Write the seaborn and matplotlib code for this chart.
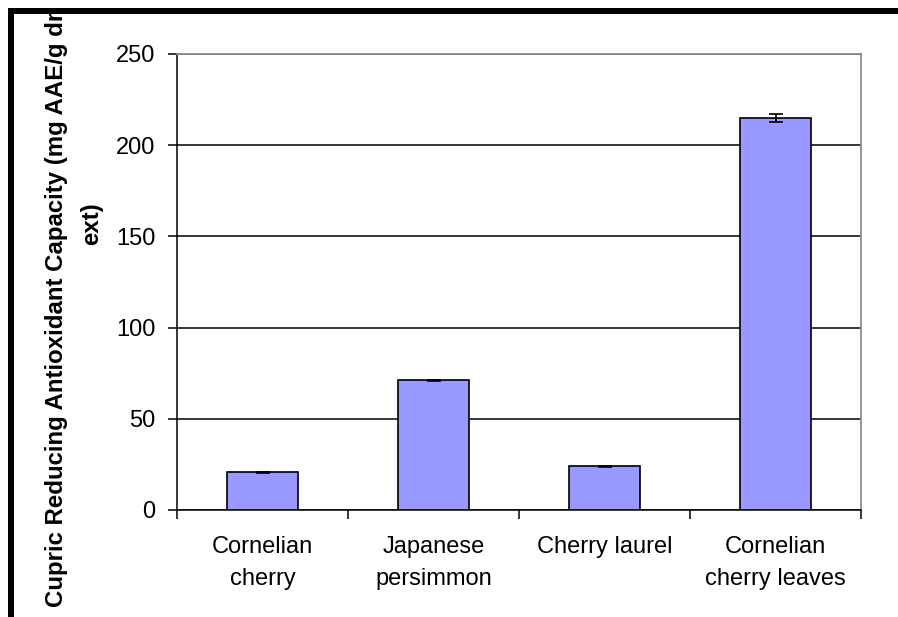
import matplotlib
matplotlib.use("Agg")
import matplotlib.pyplot as plt
from matplotlib.patches import Rectangle
from matplotlib.ticker import FixedLocator
import seaborn as sns

categories = ["Cornelian\ncherry", "Japanese\npersimmon", "Cherry laurel", "Cornelian\ncherry leaves"]
cupric_values = [20.8, 71.2, 23.9, 215.0]
cupric_errors = [0.3, 0.3, 0.3, 2.2]
y_ticks = [0, 50, 100, 150, 200, 250]
y_label_lines = ["Cupric Reducing Antioxidant Capacity (mg AAE/g dry", "ext)"]

sns.set_theme(style="white")
plt.rcParams["font.family"] = ["Liberation Sans", "DejaVu Sans"]
plt.rcParams.update({"text.color": "black", "xtick.color": "black",
                     "ytick.color": "black", "axes.labelcolor": "black"})

W, H = 898, 617
fig = plt.figure(figsize=(W / 100, H / 100), dpi=100)
fig.patch.set_facecolor("white")

left, right, top, bottom = 177, 861, 54, 510
ax = fig.add_axes([left / W, 1 - bottom / H, (right - left) / W, (bottom - top) / H])
ax.set_facecolor("white")

sns.barplot(x=categories, y=cupric_values, color="#9999FF", saturation=1,
            edgecolor="black", linewidth=1.2, width=0.41, ax=ax, zorder=3)
ax.errorbar(range(len(categories)), cupric_values, yerr=cupric_errors, fmt="none",
            ecolor="black", elinewidth=1.2, capsize=5, capthick=1.2, zorder=4)

ax.set_ylim(0, 250)
ax.set_xlim(-0.5, len(categories) - 0.5)
ax.set_yticks(y_ticks)
ax.set_yticklabels([str(t) for t in y_ticks], fontsize=17, color="black")
ax.yaxis.grid(True, color="black", linewidth=1.1)
ax.set_axisbelow(True)

# category labels centred, tick marks on the category boundaries
ax.set_xticks(range(len(categories)))
ax.set_xticklabels(categories, fontsize=17, linespacing=1.55, color="black")
ax.xaxis.set_minor_locator(FixedLocator([i - 0.5 for i in range(len(categories) + 1)]))
ax.tick_params(axis="x", which="major", length=0, pad=19)
ax.tick_params(axis="x", which="minor", length=6.5, width=1.1, color="black", bottom=True)
ax.tick_params(axis="y", which="major", length=6.5, width=1.1, color="black", left=True, pad=9)
ax.set_xlabel("")
ax.set_ylabel("")

for side in ("left", "bottom"):
    ax.spines[side].set_color("black")
    ax.spines[side].set_linewidth(1.1)
for side in ("top", "right"):
    ax.spines[side].set_color("#8c8c8c")
    ax.spines[side].set_linewidth(1.3)

# value-axis title, two wrapped lines running upward
fig.text(57 / W, 1 - 607 / H, y_label_lines[0], rotation=90, ha="center", va="bottom",
         fontsize=17.3, fontweight="bold", color="black", zorder=3)
fig.text(92 / W, 1 - 224 / H, y_label_lines[1], rotation=90, ha="center", va="center",
         fontsize=17.3, fontweight="bold", color="black", zorder=3)

# outer frame: white margin above, heavy black rules on top and left
fig.add_artist(Rectangle((0, 1 - 8 / H), 1, 8 / H, transform=fig.transFigure,
                         facecolor="white", edgecolor="none", zorder=10))
fig.add_artist(Rectangle((8 / W, 1 - 14 / H), 1, 6 / H, transform=fig.transFigure,
                         facecolor="black", edgecolor="none", zorder=11))
fig.add_artist(Rectangle((8 / W, 0), 6 / W, 1 - 8 / H, transform=fig.transFigure,
                         facecolor="black", edgecolor="none", zorder=11))

fig.savefig("out.png", dpi=100, facecolor="white")
